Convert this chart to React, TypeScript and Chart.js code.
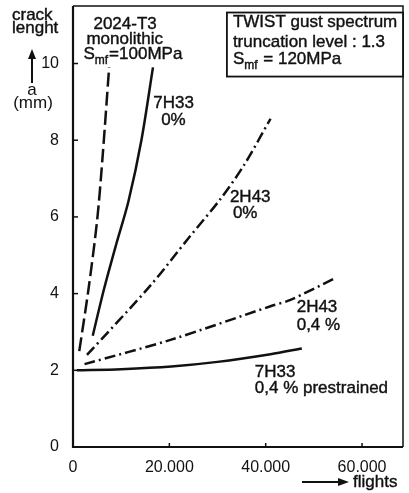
import React, { useEffect, useRef } from "react";
import { Chart, registerables } from "chart.js";

Chart.register(...registerables);

// flights / crack length (mm)
const t3X = [1300, 3200, 5000, 6100, 7500];
const t3Y = [2.5, 4.1, 5.9, 7.5, 9.9];
const h33X = [4100, 6400, 9000, 11500, 14200, 16600];
const h33Y = [2.9, 4.1, 5.3, 6.4, 8.0, 9.9];
const h43X = [2900, 16000, 24000, 30500, 35500, 41000];
const h43Y = [2.4, 4.2, 5.45, 6.45, 7.35, 8.56];
const h43pX = [2400, 20400, 41000, 45000, 54400];
const h43pY = [2.16, 2.8, 3.67, 3.83, 4.4];
const h33pX = [800, 10000, 20400, 30000, 41000, 47500];
const h33pY = [2.0, 2.03, 2.1, 2.22, 2.42, 2.57];

const xTicks = [0, 20000, 40000, 60000];
const yTicks = [0, 2, 4, 6, 8, 10];

const INK = "#111";
const FONT = "Liberation Sans";

const pts = (xs: number[], ys: number[]) => xs.map((x, i) => ({ x, y: ys[i] }));

const annotPlugin = {
  id: "annot",
  afterDraw(chart: any) {
    const ctx = chart.ctx as CanvasRenderingContext2D;
    const { left, right, top, bottom } = chart.chartArea;
    const xs = chart.scales.x;
    const ys = chart.scales.y;
    const px = (v: number) => xs.getPixelForValue(v);
    const py = (v: number) => ys.getPixelForValue(v);
    ctx.save();
    ctx.strokeStyle = INK;
    ctx.fillStyle = INK;
    // frame
    ctx.lineWidth = 1.5;
    ctx.beginPath();
    ctx.moveTo(left, top);
    ctx.lineTo(right, top);
    ctx.lineTo(right, bottom);
    ctx.stroke();
    ctx.lineWidth = 2.2;
    ctx.beginPath();
    ctx.moveTo(left, top);
    ctx.lineTo(left, bottom);
    ctx.lineTo(right, bottom);
    ctx.stroke();
    // inward ticks
    ctx.lineWidth = 1.5;
    yTicks.forEach((v) => {
      const y = py(v);
      ctx.beginPath();
      ctx.moveTo(left, y);
      ctx.lineTo(left + 5, y);
      ctx.stroke();
    });
    xTicks.forEach((v) => {
      const x = px(v);
      ctx.beginPath();
      ctx.moveTo(x, bottom);
      ctx.lineTo(x, bottom - 4);
      ctx.stroke();
    });

    const txt = (s: string, x: number, y: number, size = 17) => {
      ctx.font = `${size}px "${FONT}"`;
      ctx.textAlign = "left";
      ctx.textBaseline = "alphabetic";
      ctx.fillText(s, x, y);
      ctx.lineWidth = 0.4;
      ctx.strokeText(s, x, y);
      return ctx.measureText(s).width;
    };
    const smf = (x: number, y: number, rest: string) => {
      let w = txt("S", x, y);
      w += txt("mf", x + w, y + 5, 12);
      txt(rest, x + w + 1, y);
    };

    // y axis title
    txt("crack", 12, 20);
    txt("lenght", 12, 33);
    ctx.lineWidth = 2;
    ctx.beginPath();
    ctx.moveTo(32, 83);
    ctx.lineTo(32, 58);
    ctx.stroke();
    ctx.beginPath();
    ctx.moveTo(32, 49);
    ctx.lineTo(28, 59);
    ctx.lineTo(36, 59);
    ctx.closePath();
    ctx.fill();
    ctx.font = `17px "${FONT}"`;
    ctx.textAlign = "center";
    ctx.fillText("a", 32, 95);
    ctx.fillText("(mm)", 33, 108);

    // x axis title
    ctx.lineWidth = 2;
    ctx.beginPath();
    ctx.moveTo(302, 482);
    ctx.lineTo(340, 482);
    ctx.stroke();
    ctx.beginPath();
    ctx.moveTo(349, 482);
    ctx.lineTo(338, 478);
    ctx.lineTo(338, 486);
    ctx.closePath();
    ctx.fill();
    txt("flights", 353, 487);

    // curve labels
    txt("2024-T3", px(4240), py(10.91));
    txt("monolithic", px(2790), py(10.52));
    smf(px(2170), py(10.13), "=100MPa");

    txt("7H33", px(16650), py(8.83));
    txt("0%", px(18300), py(8.39));
    txt("2H43", px(32570), py(6.38));
    txt("0%", px(33190), py(5.96));
    txt("2H43", px(46430), py(3.52));
    txt("0,4 %", px(46430), py(3.05));
    txt("7H33", px(37740), py(1.82));
    txt("0,4 % prestrained", px(37740), py(1.41));

    // info box
    const bx0 = px(31950), bx1 = right, by0 = py(11.33), by1 = py(9.66);
    ctx.fillStyle = "#fff";
    ctx.fillRect(bx0, by0, bx1 - bx0, by1 - by0);
    ctx.fillStyle = INK;
    ctx.lineWidth = 1.8;
    ctx.strokeRect(bx0, by0, bx1 - bx0, by1 - by0);
    txt("TWIST gust spectrum", px(33190), py(10.95));
    txt("truncation level : 1.3", px(33190), py(10.44));
    smf(px(33190), py(10.0), " = 120MPa");
    ctx.restore();
  },
};

export default function App() {
  const ref = useRef<HTMLCanvasElement>(null);
  useEffect(() => {
    if (!ref.current) return;
    const ds = (xs: number[], ys: number[], dash: number[]) => ({
      data: pts(xs, ys),
      showLine: true,
      borderColor: INK,
      backgroundColor: INK,
      borderWidth: 2.5,
      borderDash: dash,
      pointRadius: 0,
      tension: 0.3,
    });
    const chart = new Chart(ref.current, {
      type: "scatter",
      data: {
        datasets: [
          ds(t3X, t3Y, [14, 5]),
          ds(h33X, h33Y, []),
          ds(h43X, h43Y, [11, 4, 2, 4]),
          ds(h43pX, h43pY, [11, 4, 2, 4]),
          ds(h33pX, h33pY, []),
        ],
      },
      options: {
        responsive: false,
        animation: false,
        layout: { padding: { top: 6, right: 6, left: 0, bottom: 0 } },
        plugins: { legend: { display: false }, tooltip: { enabled: false } },
        scales: {
          x: {
            type: "linear",
            min: 0,
            max: 68500,
            afterBuildTicks: (s: any) => {
              s.ticks = xTicks.map((v) => ({ value: v }));
            },
            afterFit: (s: any) => {
              s.height = 46;
              s.paddingLeft = 0;
              s.paddingRight = 0;
              s.paddingTop = 0;
              s.paddingBottom = 0;
            },
            grid: { display: false },
            border: { display: false },
            ticks: {
              color: INK,
              font: { family: FONT, size: 16 },
              padding: 3,
              maxRotation: 0,
              callback: (v: any) => (v === 0 ? "0" : `${v / 1000}.000`),
            },
          },
          y: {
            type: "linear",
            min: 0,
            max: 11.5,
            afterBuildTicks: (s: any) => {
              s.ticks = yTicks.map((v) => ({ value: v }));
            },
            afterFit: (s: any) => {
              s.width = 73;
              s.paddingLeft = 0;
              s.paddingRight = 0;
              s.paddingTop = 0;
              s.paddingBottom = 0;
            },
            grid: { display: false },
            border: { display: false },
            ticks: {
              color: INK,
              font: { family: FONT, size: 16 },
              padding: 6,
              callback: (v: any) => `${v}`,
            },
          },
        },
      },
      plugins: [annotPlugin],
    });
    return () => chart.destroy();
  }, []);
  return (
    <div style={{ position: "fixed", left: 0, top: 0, width: 409, height: 493, background: "#fff" }}>
      <canvas ref={ref} width={409} height={493} style={{ display: "block" }} />
    </div>
  );
}
